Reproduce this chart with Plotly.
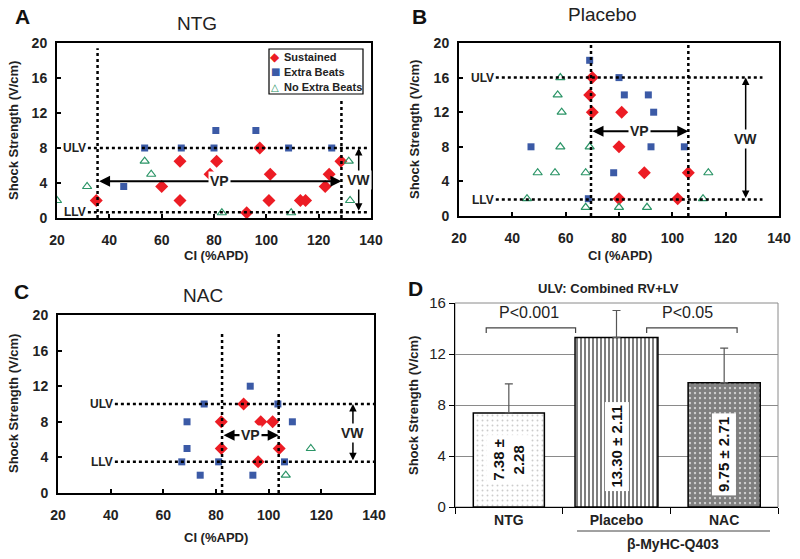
import plotly.graph_objects as go

# ---------------- data ----------------
ci_ticks = [20, 40, 60, 80, 100, 120, 140]
ss_ticks = [0, 4, 8, 12, 16, 20]

# Panel A: NTG
ntg_sus_x = [35, 60, 67, 67, 78.5, 81, 92.5, 97.5, 101.5, 101, 113, 115, 122.5, 124, 128.5]
ntg_sus_y = [2, 3.6, 2, 6.5, 5, 6.5, 0.6, 8, 5, 2, 2, 2, 3.6, 5, 6.5]
ntg_eb_x = [45.5, 53.5, 67.5, 80, 80.7, 96, 108.5, 125]
ntg_eb_y = [3.6, 8, 8, 8, 10, 10, 8, 8]
ntg_ne_x = [20, 31.5, 53.5, 56, 83, 109.5, 131.5, 132]
ntg_ne_y = [2, 3.6, 6.5, 5, 0.6, 0.6, 6.5, 2]

# Panel B: Placebo
pla_sus_x = [70, 69, 70, 81, 80, 80, 89.5, 106, 102]
pla_sus_y = [16, 14, 12, 12, 8, 2, 5, 5, 2]
pla_eb_x = [69, 80, 82, 91, 93, 47, 92, 104.5, 78, 68.5]
pla_eb_y = [18, 16, 14, 14, 12, 8, 8, 8, 5, 2]
pla_ne_x = [58, 57, 58.5, 58, 69, 49.5, 56, 67.5, 113.5, 45.5, 111.5, 67.5, 80, 90.5]
pla_ne_y = [16, 14, 12, 8, 8, 5, 5, 5, 5, 2, 2, 1, 1, 1]

# Panel C: NAC
nac_sus_x = [90.5, 82, 97, 101.5, 82, 104, 96]
nac_sus_y = [10, 8, 8, 8, 5, 5, 3.5]
nac_eb_x = [93, 75.5, 103.5, 69, 109, 69, 67, 81, 106, 74, 94]
nac_eb_y = [12, 10, 10, 8, 8, 5, 3.5, 3.5, 3.5, 2, 2]
nac_ne_x = [116, 106.5]
nac_ne_y = [5, 2]

# thresholds per panel (NTG, Placebo, NAC)
panel_titles = ["NTG", "Placebo", "NAC"]
ulv_level = [8, 16, 10]
llv_level = [0.65, 1.9, 3.5]
vp_low = [35.5, 69.5, 82.3]
vp_high = [128.7, 106, 103.8]

# Panel D: bar chart
groups = ["NTG", "Placebo", "NAC"]
ulv_mean = [7.38, 13.30, 9.75]
ulv_sd = [2.28, 2.11, 2.71]
bar_labels = ["7.38 ±<br>2.28", "13.30 ± 2.11", "9.75 ± 2.71"]

legend_names = ["Sustained", "Extra Beats", "No Extra Beats"]

# ---------------- layout helpers ----------------
W, H = 800, 559
def fx(p): return p / W
def fy(p): return 1 - p / H

FONT = "Arial, 'Liberation Sans', sans-serif"
RED = "#ec1c24"
BLUE = "#3b5aa6"
GREEN = "#2a9466"

fig = go.Figure()

def paper_text(text, px, py, size, bold=True, angle=0, anchor="center", color="#222", family=FONT):
    return dict(text=text, x=fx(px), y=fy(py), xref="paper", yref="paper", showarrow=False,
                xanchor=anchor, yanchor="middle", textangle=angle,
                font=dict(family=family, size=size, color=color,
                          weight="bold" if bold else "normal"))

# pixel frames of scatter panels: (x0, x1, ytop, ybottom)
frames = [(57, 371, 43, 218), (459, 779, 43, 216), (58, 374, 315, 493)]
series = [
    (ntg_sus_x, ntg_sus_y, ntg_eb_x, ntg_eb_y, ntg_ne_x, ntg_ne_y),
    (pla_sus_x, pla_sus_y, pla_eb_x, pla_eb_y, pla_ne_x, pla_ne_y),
    (nac_sus_x, nac_sus_y, nac_eb_x, nac_eb_y, nac_ne_x, nac_ne_y),
]
hline_start = [31.8, 33.8, 41.6]
hline_end = [139, 133.8, 140]
vline_top = [(19.4, 13.5), (20, 20), (18, 18)]
vp_arrow_y = [4.2, 9.8, 6.5]
vw_arrow_x = [135.3, 127.5, 132]
title_pos = [(197, 23), (602, 15), (203, 295)]
letter_pos = [("A", 22, 17), ("B", 419, 17), ("C", 21, 291)]
xtitle_pos = [(216, 255), (620, 255), (216, 537)]
ytitle_pos = [(13, 131), (415, 130), (13, 404)]

shapes = []
annotations = []

for i in range(3):
    sfx = "" if i == 0 else str(i + 1)
    xr, yr = "x" + sfx, "y" + sfx
    sx, sy, ex, ey, nx, ny = series[i]
    fig.add_trace(go.Scatter(x=sx, y=sy, mode="markers", name=legend_names[0],
                             marker=dict(symbol="diamond", size=10, color=RED),
                             xaxis=xr, yaxis=yr, showlegend=False))
    fig.add_trace(go.Scatter(x=ex, y=ey, mode="markers", name=legend_names[1],
                             marker=dict(symbol="square", size=7, color=BLUE),
                             xaxis=xr, yaxis=yr, showlegend=False))
    fig.add_trace(go.Scatter(x=nx, y=ny, mode="markers", name=legend_names[2],
                             marker=dict(symbol="triangle-up-open", size=8, color=GREEN,
                                         line=dict(width=1.2, color=GREEN)),
                             xaxis=xr, yaxis=yr, showlegend=False))

    x0, x1, yt, yb = frames[i]
    axis_common = dict(showline=True, mirror=True, linecolor="black", linewidth=2,
                       ticks="inside", ticklen=4, tickwidth=1.5, tickcolor="black",
                       showgrid=False, zeroline=False, automargin=False,
                       tickfont=dict(family=FONT, size=14, color="#222", weight="bold"))
    fig.layout["xaxis" + sfx] = dict(domain=[fx(x0), fx(x1)], range=[20, 140],
                                     tickvals=ci_ticks, anchor=yr,
                                     ticklabelstandoff=8, **axis_common)
    fig.layout["yaxis" + sfx] = dict(domain=[fy(yb), fy(yt)], range=[0, 20],
                                     tickvals=ss_ticks, anchor=xr,
                                     ticklabelstandoff=5, **axis_common)

    dot = dict(color="black", width=2.5, dash="dot")
    for lvl in (ulv_level[i], llv_level[i]):
        shapes.append(dict(type="line", xref=xr, yref=yr, x0=hline_start[i], x1=hline_end[i],
                           y0=lvl, y1=lvl, line=dot))
    for xv, top in zip((vp_low[i], vp_high[i]), vline_top[i]):
        shapes.append(dict(type="line", xref=xr, yref=yr, x0=xv, x1=xv, y0=0, y1=top, line=dot))

    lab_font = dict(family=FONT, size=12, color="#222", weight="bold")
    for txt, lvl in (("ULV", ulv_level[i]), ("LLV", llv_level[i])):
        annotations.append(dict(text=txt, x=hline_start[i], y=lvl, xref=xr, yref=yr,
                                xanchor="right", yanchor="middle", showarrow=False,
                                font=lab_font))
    annotations.append(dict(x=vp_high[i], y=vp_arrow_y[i], ax=vp_low[i], ay=vp_arrow_y[i],
                            xref=xr, yref=yr, axref=xr, ayref=yr, text="", showarrow=True,
                            arrowhead=2, arrowside="end+start", arrowsize=1, arrowwidth=2.2,
                            arrowcolor="black", standoff=0, startstandoff=0))
    annotations.append(dict(text="VP", x=(vp_low[i] + vp_high[i]) / 2, y=vp_arrow_y[i],
                            xref=xr, yref=yr, showarrow=False, bgcolor="white",
                            xanchor="center", yanchor="middle",
                            font=dict(family=FONT, size=14, color="#222", weight="bold")))
    annotations.append(dict(x=vw_arrow_x[i], y=ulv_level[i], ax=vw_arrow_x[i], ay=llv_level[i],
                            xref=xr, yref=yr, axref=xr, ayref=yr, text="", showarrow=True,
                            arrowhead=2, arrowside="end+start", arrowsize=1, arrowwidth=1.5,
                            arrowcolor="black", standoff=0, startstandoff=0))
    annotations.append(dict(text="VW", x=vw_arrow_x[i], y=(ulv_level[i] + llv_level[i]) / 2,
                            xref=xr, yref=yr, showarrow=False, bgcolor="white",
                            xanchor="center", yanchor="middle",
                            font=dict(family=FONT, size=14, color="#222", weight="bold")))
    tx, ty = title_pos[i]
    annotations.append(paper_text(panel_titles[i], tx, ty, 19, bold=False))
    L, lx, ly = letter_pos[i]
    annotations.append(paper_text(L, lx, ly, 21, color="#111"))
    xtx, xty = xtitle_pos[i]
    annotations.append(paper_text("CI (%APD)", xtx, xty, 13))
    ytx, yty = ytitle_pos[i]
    annotations.append(paper_text("Shock Strength (V/cm)", ytx, yty, 13, angle=-90))

# ---------------- legend box (panel A) ----------------
shapes.append(dict(type="rect", xref="paper", yref="paper", x0=fx(269), x1=fx(363),
                   y0=fy(94), y1=fy(49), line=dict(color="black", width=1.2),
                   fillcolor="white", layer="above"))
leg_sym = ["◆", "■", "△"]
leg_col = [RED, BLUE, GREEN]
leg_size = [12, 10, 10]
for k, (nm, sym, col, ss) in enumerate(zip(legend_names, leg_sym, leg_col, leg_size)):
    yy = 57 + 15 * k
    annotations.append(paper_text(sym, 275, yy, ss, bold=False, color=col, family="DejaVu Sans"))
    annotations.append(paper_text(nm, 282, yy, 11, anchor="left"))

# ---------------- Panel D ----------------
fig.add_trace(go.Bar(
    x=groups, y=ulv_mean, width=[0.66, 0.77, 0.67],
    error_y=dict(type="data", array=ulv_sd, arrayminus=[0, 0, 0], symmetric=False,
                 color="#555", thickness=1.2, width=4),
    marker=dict(color="white", line=dict(color="black", width=1.5),
                pattern=dict(shape=[".", "|", "."], fgcolor=["#999", "black", "black"],
                             bgcolor=["white", "white", "white"], size=[5, 4, 5],
                             solidity=[0.12, 0.5, 0.82])),
    xaxis="x4", yaxis="y4", showlegend=False))

fig.layout.xaxis4 = dict(domain=[fx(455), fx(778)], anchor="y4", type="category",
                         range=[-0.5, 2.5], showline=True, linecolor="black", linewidth=1.2,
                         ticks="outside", tickson="boundaries", ticklen=6, tickcolor="black",
                         showgrid=False, automargin=False,
                         tickfont=dict(family=FONT, size=14, color="#222", weight="bold"))
fig.layout.yaxis4 = dict(domain=[fy(507), fy(303)], anchor="x4", range=[0, 16],
                         tickvals=[0, 4, 8, 12, 16], showline=True, linecolor="black",
                         linewidth=1.2, ticks="outside", ticklen=5, tickcolor="black",
                         showgrid=True, gridcolor="#8a8a8a", gridwidth=1, zeroline=False,
                         automargin=False,
                         tickfont=dict(family=FONT, size=15, color="#222"))

shapes.append(dict(type="rect", xref="paper", yref="paper", x0=fx(455), x1=fx(778),
                   y0=fy(507), y1=fy(303), line=dict(color="#8a8a8a", width=1), layer="below"))

label_y = [3.7, 4.7, 4.1]
for g, t, ly in zip(groups, bar_labels, label_y):
    annotations.append(dict(text=t, x=g, y=ly, xref="x4", yref="y4", textangle=-90,
                            showarrow=False, bgcolor="white", borderpad=3,
                            xanchor="center", yanchor="middle",
                            font=dict(family=FONT, size=15, color="#111", weight="bold")))

for (b0, b1, txt, tx) in [(-0.21, 0.62, "P<0.001", 0.19), (1.28, 2.12, "P<0.05", 1.66)]:
    shapes.append(dict(type="path", xref="x4", yref="y4",
                       path=f"M {b0} 13.65 L {b0} 14.05 L {b1} 14.05 L {b1} 13.65",
                       line=dict(color="#444", width=1.2)))
    annotations.append(dict(text=txt, x=tx, y=15.25, xref="x4", yref="y4", showarrow=False,
                            xanchor="center", yanchor="middle",
                            font=dict(family=FONT, size=16, color="#222")))

shapes.append(dict(type="line", xref="paper", yref="paper", x0=fx(577), x1=fx(770),
                   y0=fy(531), y1=fy(531), line=dict(color="#444", width=1)))
annotations.append(paper_text("β-MyHC-Q403", 673, 544, 14))
annotations.append(paper_text("ULV: Combined RV+LV", 608, 289, 13))
annotations.append(paper_text("D", 415, 288, 21, color="#111"))
annotations.append(paper_text("Shock Strength (V/cm)", 413, 406, 13, angle=-90))

fig.update_layout(
    width=W, height=H, margin=dict(l=0, r=0, t=0, b=0),
    paper_bgcolor="white", plot_bgcolor="white",
    shapes=shapes, annotations=annotations,
    showlegend=False,
    font=dict(family=FONT),
)

fig.write_html("out.html", config={"displayModeBar": False},
               post_script="document.body.style.margin='0';document.body.style.padding='0';")
